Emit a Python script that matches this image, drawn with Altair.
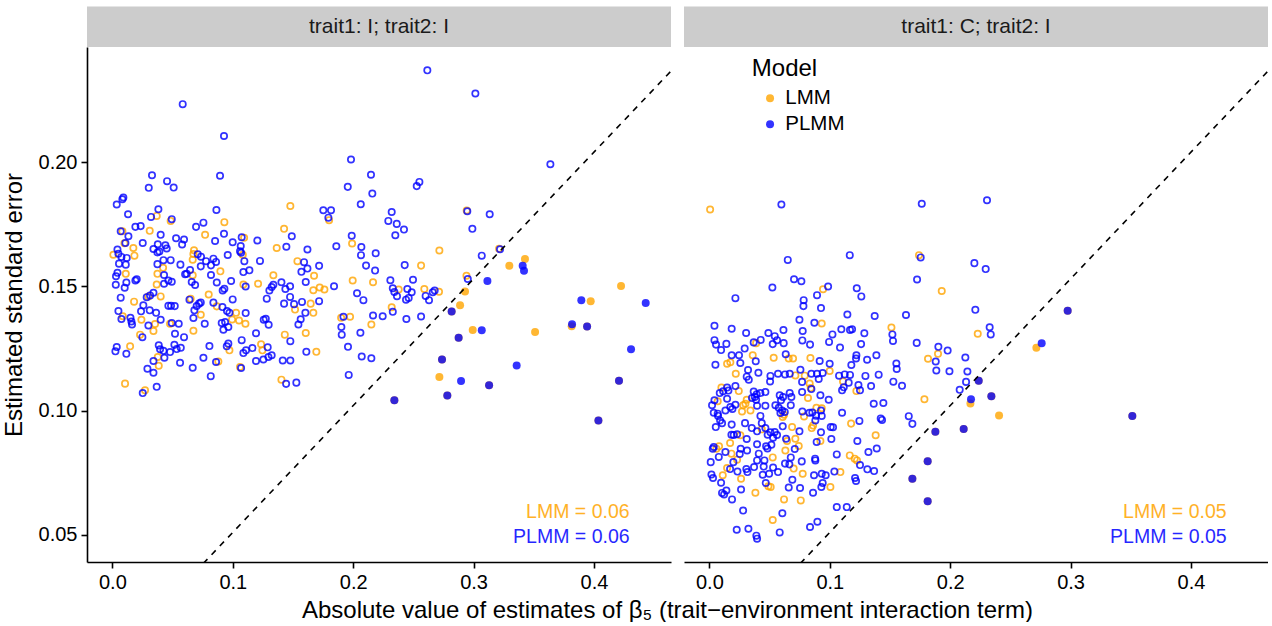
import altair as alt
import pandas as pd

FONT = "Liberation Sans"
ORANGE = "#FFA500"
BLUE = "#0000FF"

strip_labels = ["trait1: I; trait2: I", "trait1: C; trait2: I"]
models = ["LMM", "PLMM"]
x_ticks = [0.0, 0.1, 0.2, 0.3, 0.4]
y_ticks = [0.05, 0.10, 0.15, 0.20]
annot_left = ["LMM = 0.06", "PLMM = 0.06"]
annot_right = ["LMM = 0.05", "PLMM = 0.05"]
annot_est = 0.4296
annot_se = [0.0570, 0.0469]
ref_line_est = [0.0, 0.5]

# (|estimate|, standard error) pairs
left_lmm = [
    (0.0368,0.1784),(0.0484,0.1764),(0.093,0.1759),(0.0083,0.1722),(0.031,0.1724),(0.077,0.1708),
    (0.1094,0.1696),(0.1083,0.1628),(0.01,0.1674),(0.0008,0.1628),(0.0174,0.1655),(0.0183,0.1624),
    (0.0678,0.1646),(0.0673,0.1631),(0.0667,0.1608),
    (0.0421,0.1575),(0.0897,0.1561),(0.1337,0.1545),(0.0111,0.1551),(0.0374,0.1551),(0.0667,0.1545),
    (0.0368,0.1508),(0.1088,0.1508),(0.121,0.1511),(0.0299,0.146),(0.0401,0.146),(0.018,0.1439),
    (0.0086,0.138),(0.0241,0.1366),(0.0354,0.1349),(0.0341,0.1321),(0.0479,0.135),(0.023,0.1306),
    (0.065,0.1451),(0.0734,0.1386),(0.0673,0.1322),(0.08,0.1468),(0.0867,0.142),(0.1027,0.1394),
    (0.1052,0.1363),(0.1105,0.135),(0.0994,0.1367),(0.0147,0.1259),(0.0377,0.1216),(0.0385,0.1181),
    (0.088,0.1198),(0.0972,0.1243),(0.106,0.1176),(0.1235,0.1267),(0.1246,0.1243),(0.0105,0.1109),
    (0.0271,0.1082),
    (0.1478,0.1824),(0.18,0.1767),(0.1426,0.1732),(0.1365,0.1655),(0.1991,0.1673),(0.2564,0.1584),
    (0.1537,0.1602),(0.1675,0.1543),(0.1996,0.1524),(0.2165,0.1517),(0.2378,0.1488),(0.2591,0.149),
    (0.1517,0.1407),(0.1647,0.1431),(0.1669,0.1394),(0.1669,0.1485),(0.1722,0.1496),(0.1761,0.1488),
    (0.1974,0.1378),(0.19,0.1374),(0.232,0.1416),(0.2151,0.1347),(0.1432,0.1306),(0.1606,0.1313),
    (0.1694,0.1237),(0.1404,0.1125),
    (0.2943,0.1806),(0.2716,0.1645),(0.3212,0.1652),(0.2941,0.1543),(0.2713,0.1479),
    (0.3427,0.1611),(0.3297,0.1583),(0.2929,0.148),(0.2888,0.1424),(0.4225,0.1502),(0.3973,0.1441),
    (0.2993,0.1325),(0.3511,0.1317),(0.3815,0.134),(0.2716,0.1136),
    (0.2818,0.1399),(0.3943,0.1339),(0.2876,0.1294),(0.2738,0.1206),(0.3129,0.1102),(0.4208,0.1121),
    (0.2782,0.1061),(0.4037,0.0961),(0.2342,0.1042),
]

left_plmm = [
    (0.0584,0.2234),(0.0927,0.2106),(0.0329,0.1948),(0.0454,0.1924),(0.0302,0.1897),(0.0509,0.1898),
    (0.0894,0.1946),(0.0091,0.1858),(0.0083,0.1851),(0.0036,0.183),(0.013,0.1791),(0.0382,0.1811),
    (0.0321,0.178),(0.0493,0.1771),(0.0864,0.1808),(0.0069,0.1722),(0.0191,0.174),(0.0235,0.1743),
    (0.0133,0.1702),(0.0401,0.1708),(0.0529,0.1694),(0.0595,0.1689),(0.0579,0.1669),(0.0695,0.174),
    (0.0756,0.1757),(0.0853,0.1683),(0.0927,0.1712),(0.1074,0.1698),(0.0999,0.1678),(0.1066,0.1663),
    (0.106,0.1642),(0.1069,0.1636),(0.1204,0.1685),(0.1226,0.1603),(0.1096,0.1602),(0.0958,0.1627),
    (0.0108,0.1675),(0.0042,0.1649),(0.005,0.1632),(0.0075,0.1619),(0.0119,0.1615),(0.0252,0.1675),
    (0.0341,0.1651),(0.0377,0.167),(0.0374,0.1637),(0.039,0.1641),(0.044,0.1666),(0.0451,0.1653),
    (0.0424,0.1606),(0.0484,0.1606),(0.0374,0.159),(0.0565,0.1588),(0.0709,0.163),(0.0736,0.162),
    (0.0778,0.1602),(0.0839,0.1612),(0.0819,0.1585),(0.0861,0.1599),(0.0055,0.1592),(0.0111,0.1588),
    (0.0645,0.1566),(0.0734,0.1581),(0.1088,0.1558),(0.1138,0.1565),(0.003,0.1541),(0.0042,0.1555),
    (0.0028,0.1507),(0.0116,0.1516),(0.0191,0.1524),(0.0202,0.1529),(0.0102,0.1495),(0.0429,0.1546),
    (0.0604,0.1549),(0.0617,0.1551),(0.0659,0.1518),(0.0687,0.1506),(0.0465,0.1524),(0.0493,0.1519),
    (0.0429,0.1511),(0.0819,0.1546),(0.0867,0.1516),(0.0916,0.1484),(0.093,0.1491),(0.0986,0.1522),
    (0.1107,0.15),(0.1304,0.1484),(0.1323,0.1498),(0.1337,0.1507),(0.1282,0.1451),(0.0069,0.1455),
    (0.0285,0.1457),(0.0313,0.1464),(0.0341,0.1475),(0.0257,0.1424),(0.0238,0.14),(0.031,0.1404),
    (0.0363,0.1394),(0.005,0.1401),(0.0075,0.1369),(0.015,0.1374),(0.0158,0.1359),(0.0163,0.1347),
    (0.0299,0.1343),(0.0401,0.1366),(0.0465,0.1422),(0.0487,0.1422),(0.0518,0.1421),(0.0493,0.1353),
    (0.0551,0.135),(0.052,0.131),(0.0595,0.1296),(0.0249,0.1296),(0.064,0.1447),(0.07,0.1421),
    (0.072,0.1431),(0.0734,0.1436),(0.0681,0.1404),(0.0673,0.1373),(0.0767,0.135),(0.0839,0.1435),
    (0.0914,0.1417),(0.0952,0.1401),(0.0972,0.1394),(0.0999,0.1448),(0.1107,0.1393),(0.0908,0.1353),
    (0.0936,0.1357),(0.0922,0.1326),(0.0963,0.1337),(0.1257,0.1366),(0.1274,0.137),(0.1298,0.1346),
    (0.1193,0.1312),(0.0025,0.1239),(0.0036,0.1256),(0.0116,0.1229),(0.0385,0.1263),(0.0396,0.1247),
    (0.0424,0.1241),(0.0479,0.1236),(0.0515,0.1265),(0.0534,0.1248),(0.0568,0.1253),(0.0432,0.1213),
    (0.0341,0.12),(0.0341,0.1153),(0.0291,0.1169),(0.0562,0.1193),(0.0667,0.1173),(0.0756,0.1213),
    (0.0806,0.126),(0.0861,0.1196),(0.095,0.1259),(0.0963,0.127),(0.1074,0.1284),(0.1069,0.1172),
    (0.1088,0.1232),(0.111,0.1243),(0.1163,0.1252),(0.1193,0.12),(0.129,0.1255),(0.1254,0.1206),
    (0.1296,0.1216),(0.1323,0.1223),(0.0817,0.1139),(0.0252,0.1071),(0.0368,0.1096),
    (0.1982,0.2011),(0.2148,0.195),(0.1955,0.1901),(0.2159,0.1874),(0.255,0.1921),(0.2528,0.1904),
    (0.2063,0.1831),(0.1752,0.1807),(0.1816,0.1807),(0.1794,0.1777),(0.232,0.18),(0.2292,0.1764),
    (0.2362,0.1752),(0.235,0.1706),(0.2422,0.1729),(0.149,0.1702),(0.1445,0.166),(0.162,0.1649),
    (0.186,0.1662),(0.1988,0.1704),(0.2068,0.1659),(0.2065,0.1626),(0.2187,0.1634),(0.2428,0.1586),
    (0.2107,0.1584),(0.2182,0.1564),(0.1592,0.1598),(0.157,0.1559),(0.162,0.1572),(0.1717,0.1583),
    (0.2309,0.1525),(0.2497,0.1527),(0.2329,0.1493),(0.2342,0.1478),(0.245,0.149),(0.2486,0.1477),
    (0.2461,0.1454),(0.2439,0.1447),(0.2364,0.1461),(0.2602,0.1462),(0.263,0.1445),(0.2661,0.1477),
    (0.2677,0.1484),(0.1404,0.1517),(0.1437,0.149),(0.1476,0.1501),(0.1426,0.1431),(0.1476,0.1458),
    (0.1509,0.1429),(0.1575,0.1438),(0.1603,0.1394),(0.1841,0.1501),(0.1717,0.1441),(0.1606,0.1518),
    (0.2032,0.1473),(0.2085,0.1445),(0.1919,0.1378),(0.2165,0.1383),(0.2245,0.138),(0.2329,0.1398),
    (0.2442,0.1369),(0.2564,0.1379),(0.1902,0.1337),(0.1905,0.1306),(0.206,0.1314),(0.1545,0.1347),
    (0.1564,0.1368),(0.1478,0.128),(0.1957,0.1257),(0.1611,0.1237),(0.2071,0.1218),(0.2151,0.1211),
    (0.1415,0.1202),(0.1478,0.1202),(0.1963,0.1144),(0.1443,0.1108),(0.1528,0.1113),(0.2616,0.237),
    (0.3015,0.2277),(0.3638,0.1992),(0.2948,0.1803),(0.3134,0.1791),(0.299,0.1732),(0.3068,0.1624),
    (0.322,0.165),(0.2952,0.153),
    (0.3408,0.1583),(0.3419,0.1563),(0.3115,0.1522),(0.3895,0.1445),(0.443,0.1434),(0.3068,0.1324),
    (0.3818,0.1348),(0.4308,0.1247),(0.2896,0.112),(0.3358,0.1182),
    (0.2818,0.1399),(0.3943,0.1339),(0.2876,0.1294),(0.2738,0.1206),(0.3129,0.1102),(0.4208,0.1121),
    (0.2782,0.1061),(0.4037,0.0961),(0.2342,0.1042),
]

right_lmm = [
    (0.0006,0.181),(0.0944,0.1489),(0.0933,0.1351),(0.0388,0.1272),
    (0.036,0.1223),(0.0534,0.1213),(0.0659,0.121),(0.0695,0.121),(0.0839,0.1212),(0.0147,0.1189),
    (0.0174,0.1195),(0.0219,0.1149),(0.0714,0.1142),(0.0792,0.1141),(0.0999,0.116),(0.111,0.1118),
    (0.0833,0.1109),(0.0842,0.1091),(0.01,0.1093),(0.0244,0.1079),(0.031,0.1044),(0.0299,0.1028),
    (0.028,0.1022),(0.0069,0.1038),(0.0819,0.1051),(0.1221,0.1079),(0.062,0.0984),(0.0341,0.1001),
    (0.0271,0.0997),(0.0786,0.0977),(0.0933,0.101),(0.0889,0.1012),(0.1177,0.0948),(0.0861,0.094),
    (0.085,0.093),(0.0687,0.0934),(0.0609,0.0975),(0.0435,0.0925),(0.0257,0.0901),(0.0172,0.087),
    (0.0714,0.0887),(0.0645,0.0878),(0.0631,0.084),(0.0742,0.0858),(0.0526,0.0812),(0.023,0.0803),
    (0.0058,0.0847),(0.008,0.0857),(0.0183,0.0827),(0.0922,0.0878),(0.1381,0.0901),(0.1166,0.082),
    (0.1207,0.0807),(0.1226,0.08),(0.07,0.0767),(0.0147,0.0769),(0.0111,0.074),(0.0263,0.0726),
    (0.1088,0.0753),(0.0775,0.0746),(0.0382,0.067),(0.049,0.0696),(0.0509,0.0693),(0.1005,0.0693),
    (0.062,0.0643),(0.0759,0.0639),(0.0526,0.056),
    (0.1741,0.1626),(0.193,0.1482),(0.1512,0.1335),(0.2229,0.131),(0.1899,0.1229),(0.1816,0.1209),
    (0.1786,0.1046),
    (0.2168,0.1029),(0.2406,0.0981),(0.2716,0.1253),
    (0.2237,0.1121),(0.2342,0.1058),(0.1877,0.0915),(0.2112,0.0926),(0.1813,0.0797),(0.1686,0.0726),
    (0.1813,0.0636),(0.2976,0.1402),(0.3513,0.0979),
]

right_plmm = [
    (0.0598,0.183),(0.1166,0.1626),(0.0651,0.1607),(0.0703,0.1529),(0.0764,0.1521),(0.0523,0.1496),
    (0.0986,0.15),(0.1224,0.1493),(0.1262,0.146),(0.0216,0.1453),(0.0783,0.1445),(0.0781,0.1421),
    (0.0894,0.1465),(0.0927,0.1413),(0.1146,0.1387),(0.1373,0.1381),(0.0748,0.1366),(0.0872,0.1354),
    (0.0042,0.1342),(0.0185,0.133),(0.0305,0.1313),(0.049,0.1313),(0.0615,0.1325),(0.0543,0.13),
    (0.0562,0.1284),(0.0775,0.1321),(0.1022,0.1307),(0.1096,0.1328),(0.1168,0.1325),(0.1185,0.1328),
    (0.1287,0.1312),(0.0042,0.1284),(0.0055,0.1266),(0.0097,0.1244),(0.0141,0.1269),(0.0293,0.125),
    (0.0368,0.1275),(0.0426,0.1285),(0.0526,0.1268),(0.0617,0.1272),(0.0772,0.1283),(0.0836,0.1266),
    (0.0994,0.1277),(0.1085,0.1254),(0.126,0.1268),
    (0.0185,0.1223),(0.0246,0.1223),(0.0634,0.1227),(0.0916,0.12),(0.0999,0.1189),(0.1179,0.1184),
    (0.1221,0.1223),(0.1218,0.121),(0.131,0.1205),(0.1387,0.1223),(0.005,0.1185),(0.0257,0.1192),
    (0.0385,0.1199),(0.0321,0.1164),(0.0407,0.1153),(0.031,0.1137),(0.0327,0.1125),(0.0507,0.114),
    (0.0504,0.1118),(0.057,0.1149),(0.0628,0.1146),(0.0667,0.1149),(0.0756,0.1165),(0.0847,0.1149),
    (0.0894,0.1149),(0.0908,0.1128),(0.0941,0.1152),(0.1077,0.1141),(0.1124,0.1146),(0.1168,0.1144),
    (0.1157,0.1113),(0.1296,0.114),(0.1406,0.1145),(0.077,0.1116),(0.0147,0.1093),(0.0114,0.1078),
    (0.0086,0.1071),(0.0158,0.1081),(0.0216,0.1099),(0.0368,0.1077),(0.0393,0.1066),(0.0424,0.1071),
    (0.0465,0.1075),(0.0377,0.1055),(0.0354,0.1051),(0.0388,0.1044),(0.0042,0.1042),(0.0022,0.1022),
    (0.0147,0.1048),(0.0216,0.1024),(0.0174,0.1015),(0.0584,0.1062),(0.0612,0.1055),(0.0595,0.1042),
    (0.0667,0.1071),(0.0681,0.1055),(0.077,0.1075),(0.0847,0.1087),(0.0922,0.1062),(0.0991,0.1044),
    (0.1102,0.1082),(0.1116,0.1094),(0.1238,0.1103),(0.1251,0.1082),(0.1343,0.1099),(0.1365,0.1028),
    (0.1445,0.1031),(0.0396,0.102),(0.0465,0.102),(0.0548,0.1022),(0.0576,0.1012),(0.0604,0.1001),
    (0.0626,0.0995),(0.059,0.0991),(0.0676,0.1022),(0.0036,0.0992),(0.0069,0.0988),(0.0072,0.0979),
    (0.0133,0.1001),(0.0191,0.1007),(0.0089,0.0961),(0.0105,0.095),(0.0185,0.0944),(0.0424,0.0979),
    (0.0435,0.095),(0.0772,0.0997),(0.0831,0.0992),(0.0855,0.0993),(0.0886,0.098),(0.088,0.0961),
    (0.0927,0.1001),(0.0933,0.0979),(0.1102,0.0992),(0.1246,0.0959),(0.1423,0.0969),(0.1434,0.0963),
    (0.1008,0.0934),(0.1027,0.0933),(0.0927,0.0913),(0.0748,0.0917),(0.0053,0.0934),(0.0296,0.095),
    (0.0352,0.093),(0.0396,0.0917),(0.0465,0.093),(0.0484,0.0903),(0.0507,0.0913),(0.0543,0.0914),
    (0.0529,0.0891),(0.0562,0.0902),(0.0609,0.0937),(0.0183,0.0903),(0.0202,0.0902),(0.023,0.0905),
    (0.031,0.0886),(0.0637,0.0887),(0.0709,0.0846),(0.0676,0.0812),(0.0515,0.0863),(0.0482,0.0848),
    (0.0396,0.0865),(0.0471,0.0857),(0.041,0.0827),(0.0396,0.08),(0.0457,0.08),(0.0313,0.084),
    (0.026,0.0847),(0.0252,0.0826),(0.0199,0.0793),(0.0133,0.0834),(0.0078,0.0814),(0.0036,0.0854),
    (0.0028,0.0847),(0.0011,0.0793),(0.0891,0.0874),(0.1013,0.0886),(0.1229,0.0878),(0.1321,0.0834),
    (0.139,0.0848),(0.1251,0.0781),(0.1058,0.0824),(0.0878,0.0807),(0.088,0.08),(0.0767,0.0796),
    (0.0664,0.0784),(0.0628,0.0787),(0.0529,0.0771),(0.0451,0.0775),(0.0371,0.0773),(0.0307,0.0765),
    (0.0316,0.0753),(0.0233,0.0755),(0.0172,0.0765),(0.0017,0.0743),(0.003,0.0729),(0.0443,0.0742),
    (0.0496,0.0746),(0.057,0.0753),(0.1038,0.0755),(0.0933,0.0746),(0.0966,0.074),(0.0869,0.074),
    (0.121,0.0729),(0.1218,0.0717),(0.1312,0.0764),(0.1368,0.0757),(0.0097,0.071),(0.0141,0.0679),
    (0.0122,0.0663),(0.0105,0.0669),(0.0188,0.0643),(0.0263,0.0683),(0.0468,0.0709),(0.0659,0.0691),
    (0.0689,0.0722),(0.0753,0.0689),(0.0861,0.067),(0.093,0.0693),(0.0941,0.0709),(0.028,0.0598),
    (0.0606,0.0587),(0.1058,0.0612),(0.1141,0.0612),(0.0897,0.0553),(0.0836,0.0532),(0.0227,0.0521),
    (0.0324,0.0525),(0.0584,0.051),(0.039,0.0497),(0.0396,0.0485),
    (0.1764,0.1833),(0.2306,0.1847),(0.1755,0.1617),(0.2201,0.1594),(0.2295,0.157),(0.1725,0.1528),
    (0.2209,0.1406),(0.1633,0.1385),(0.152,0.1307),(0.1525,0.1281),(0.2328,0.1336),(0.2337,0.1307),
    (0.1722,0.1273),(0.1902,0.1257),(0.1979,0.1242),(0.188,0.1198),(0.1553,0.119),(0.1556,0.1168),
    (0.1885,0.1162),(0.1994,0.1159),(0.2126,0.1214),(0.2143,0.1158),(0.2132,0.1116),(0.2079,0.1084),
    (0.1528,0.1117),(0.16,0.11),(0.1656,0.0978),(0.1686,0.0947),
    (0.2173,0.1046),(0.276,0.1272),
    (0.2237,0.1121),(0.2342,0.1058),(0.1877,0.0915),(0.2112,0.0926),(0.1813,0.0797),(0.1686,0.0726),
    (0.1813,0.0636),(0.2976,0.1402),(0.3513,0.0979),
]

W, H = 584, 515
X_DOMAIN = [-0.0211, 0.4640]
Y_DOMAIN = [0.0391, 0.2464]
X_TITLE = "Absolute value of estimates of \u03b2\u2085 (trait\u2212environment interaction term)"


def make_df(lmm, plmm):
    rows = [{"est": a, "se": b, "Model": models[0]} for a, b in lmm]
    rows += [{"est": a, "se": b, "Model": models[1]} for a, b in plmm]
    return pd.DataFrame(rows)


def panel(df, strip, annots, left):
    xs = alt.Scale(domain=X_DOMAIN, nice=False, zero=False)
    ys = alt.Scale(domain=Y_DOMAIN, nice=False, zero=False)
    cs = alt.Scale(domain=models, range=[ORANGE, BLUE])
    if left:
        x_axis = alt.Axis(values=x_ticks, format=".1f", title=X_TITLE, titleX=580,
                          titleAlign="center", titlePadding=6, labelFlush=False)
        y_enc = alt.Y("se:Q", scale=ys, axis=alt.Axis(values=y_ticks, format=".2f",
                      title="Estimated standard error", titlePadding=12))
    else:
        x_axis = alt.Axis(values=x_ticks, format=".1f", title=None, labelFlush=False)
        y_enc = alt.Y("se:Q", scale=ys, axis=None)
    x_enc = alt.X("est:Q", scale=xs, axis=x_axis)

    base = alt.Chart(df)
    if left:
        filled_color = alt.Color("Model:N", scale=cs, legend=None)
        open_color = alt.Color("Model:N", scale=cs, legend=None)
    else:
        leg = alt.Legend(title="Model", orient="none", legendX=67.8, legendY=10,
                         direction="vertical", titleFont=FONT, titleFontSize=24,
                         titleFontWeight="normal", titleColor="black", titlePadding=7,
                         labelFont=FONT, labelFontSize=20.5, labelColor="black",
                         symbolType="circle", symbolSize=64, symbolStrokeWidth=0,
                         symbolOpacity=0.8, symbolOffset=8, labelOffset=5,
                         rowPadding=5, padding=0)
        filled_color = alt.Color("Model:N", scale=cs, legend=leg)
        open_color = alt.Color("Model:N", scale=cs)

    filled_pts = base.transform_filter("datum.est / datum.se > 1.96").mark_circle(
        size=64, opacity=0.8
    ).encode(x=x_enc, y=y_enc, color=filled_color)
    open_pts = base.transform_filter("datum.est / datum.se <= 1.96").mark_point(
        shape="circle", filled=False, size=40, strokeWidth=1.7, opacity=0.8
    ).encode(x=x_enc, y=y_enc, color=open_color)

    line = alt.Chart(pd.DataFrame({"est": ref_line_est})).transform_calculate(
        se="datum.est / 1.96"
    ).mark_line(color="black", strokeDash=[6, 6], strokeWidth=1.6, clip=True).encode(
        x=x_enc, y=y_enc)

    ann_df = pd.DataFrame({"label": annots, "est": [annot_est, annot_est], "se": annot_se})
    ann_l = alt.Chart(ann_df).transform_filter(alt.datum.label == annots[0]).mark_text(
        align="right", baseline="alphabetic", font=FONT, fontSize=19.5, color=ORANGE, opacity=0.85
    ).encode(x=x_enc, y=y_enc, text="label:N")
    ann_p = alt.Chart(ann_df).transform_filter(alt.datum.label == annots[1]).mark_text(
        align="right", baseline="alphabetic", font=FONT, fontSize=19.5, color=BLUE, opacity=0.85
    ).encode(x=x_enc, y=y_enc, text="label:N")

    strip_df = pd.DataFrame({"label": [strip]})
    strip_rect = alt.Chart(strip_df).mark_rect(color="#CCCCCC").encode(
        x=alt.value(0), x2=alt.value(W), y=alt.value(-40.5), y2=alt.value(0))
    strip_text = alt.Chart(strip_df).mark_text(
        font=FONT, fontSize=21, color="#1A1A1A", baseline="middle", align="center"
    ).encode(x=alt.value(W / 2), y=alt.value(-20.2), text="label:N")

    return alt.layer(strip_rect, strip_text, filled_pts, open_pts, line, ann_l, ann_p).properties(
        width=W, height=H)


left_chart = panel(make_df(left_lmm, left_plmm), strip_labels[0], annot_left, True)
right_chart = panel(make_df(right_lmm, right_plmm), strip_labels[1], annot_right, False)

chart = alt.hconcat(left_chart, right_chart, spacing=13, bounds="flush").resolve_scale(
    color="independent"
).resolve_legend(color="independent").properties(
    padding={"left": 2, "top": 6, "right": 0, "bottom": 0}
).configure_view(strokeWidth=0).configure_axis(
    grid=False, domainColor="black", domainWidth=1.6, tickColor="black", tickWidth=1.6,
    tickSize=6, labelFont=FONT, labelFontSize=20, labelColor="black", labelPadding=4,
    titleFont=FONT, titleFontSize=24, titleFontWeight="normal", titleColor="black"
)

chart.save("out.html", embed_options={"renderer": "svg", "actions": False})
